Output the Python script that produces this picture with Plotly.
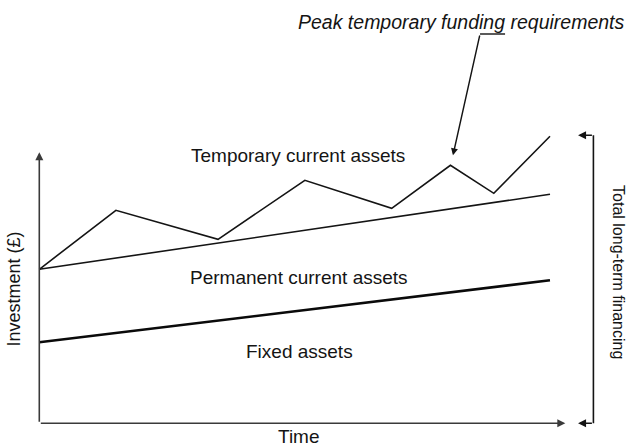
import plotly.graph_objects as go

# Time periods and cumulative investment levels (£)
time_points = [0, 1.5, 3.5, 5.2, 6.9, 8.05, 8.9, 10]
total_assets = [15.4, 21.3, 18.4, 24.3, 21.5, 25.8, 23.0, 28.7]  # fixed + permanent + temporary
trend_time = [0, 10]
permanent_level = [15.4, 22.9]  # fixed + permanent current assets
fixed_level = [8.1, 14.3]       # fixed assets

region_labels = ["Temporary current assets", "Permanent current assets", "Fixed assets"]
peak_label = "Peak temporary funding requirements"
x_title = "Time"
y_title = "Investment (£)"
bracket_label = "Total long-term financing"

FONT = "Liberation Sans, Arial, Helvetica, sans-serif"
INK = "#141414"
AXIS = "#3a3a3a"

fig = go.Figure()

fig.add_trace(go.Scatter(x=time_points, y=total_assets, mode="lines",
                         line=dict(color=INK, width=1.6), hoverinfo="skip"))
fig.add_trace(go.Scatter(x=trend_time, y=permanent_level, mode="lines",
                         line=dict(color=INK, width=1.6), hoverinfo="skip"))
fig.add_trace(go.Scatter(x=trend_time, y=fixed_level, mode="lines",
                         line=dict(color="#0a0a0a", width=2.6), hoverinfo="skip"))

annotations = []


def arrow(tip_x, tip_y, tail_x, tail_y, color=AXIS, width=1.6):
    annotations.append(dict(x=tip_x, y=tip_y, ax=tail_x, ay=tail_y,
                            xref="x", yref="y", axref="x", ayref="y",
                            text="", showarrow=True, arrowhead=2, arrowsize=1,
                            arrowwidth=width, arrowcolor=color, standoff=0))


def label(x, y, text, size=19, angle=0, italic=False):
    annotations.append(dict(x=x, y=y, xref="x", yref="y", text=text,
                            showarrow=False, textangle=angle,
                            font=dict(family=FONT, size=size, color=INK,
                                      style="italic" if italic else "normal"),
                            xanchor="center", yanchor="middle"))


# axes with arrowheads
y_top = 27.1
x_end = 10.3
arrow(0, y_top, 0, 0)
arrow(x_end, 0, 0, 0)

# bracket for total long-term financing
top_level = max(total_assets) + 0.1
bracket_x = 10.85
fig.add_shape(type="line", x0=bracket_x, x1=bracket_x, y0=0, y1=top_level,
              line=dict(color=INK, width=1.6))
arrow(10.55, top_level, bracket_x, top_level, color=INK)
arrow(10.55, 0, bracket_x, 0, color=INK)

# leader line to the peak requirement
peak_i = total_assets.index(max(total_assets[:-1]))
elbow_x, elbow_y = 8.63, 38.93
fig.add_shape(type="line", x0=9.12, x1=elbow_x, y0=elbow_y, y1=elbow_y,
              line=dict(color=INK, width=1.4))
arrow(time_points[peak_i] + 0.05, total_assets[peak_i] + 1.0, elbow_x, elbow_y,
      color=INK, width=1.4)

# text
label(5.07, 26.8, region_labels[0])
label(5.09, 14.6, region_labels[1])
label(5.09, 7.2, region_labels[2])
label(5.09, -1.3, x_title)
label(-0.515, 13.38, y_title, size=18, angle=-90)
label(11.35, 15.13, bracket_label, size=16, angle=90)
label(8.26, 40.1, peak_label, size=19.5, italic=True)

fig.update_layout(
    width=631, height=448,
    margin=dict(l=0, r=0, t=0, b=0),
    paper_bgcolor="white", plot_bgcolor="white",
    showlegend=False,
    xaxis=dict(range=[-0.7695, 11.586], visible=False, fixedrange=True),
    yaxis=dict(range=[-2.47, 42.33], visible=False, fixedrange=True),
    annotations=annotations,
)

fig.write_html("out.html")
